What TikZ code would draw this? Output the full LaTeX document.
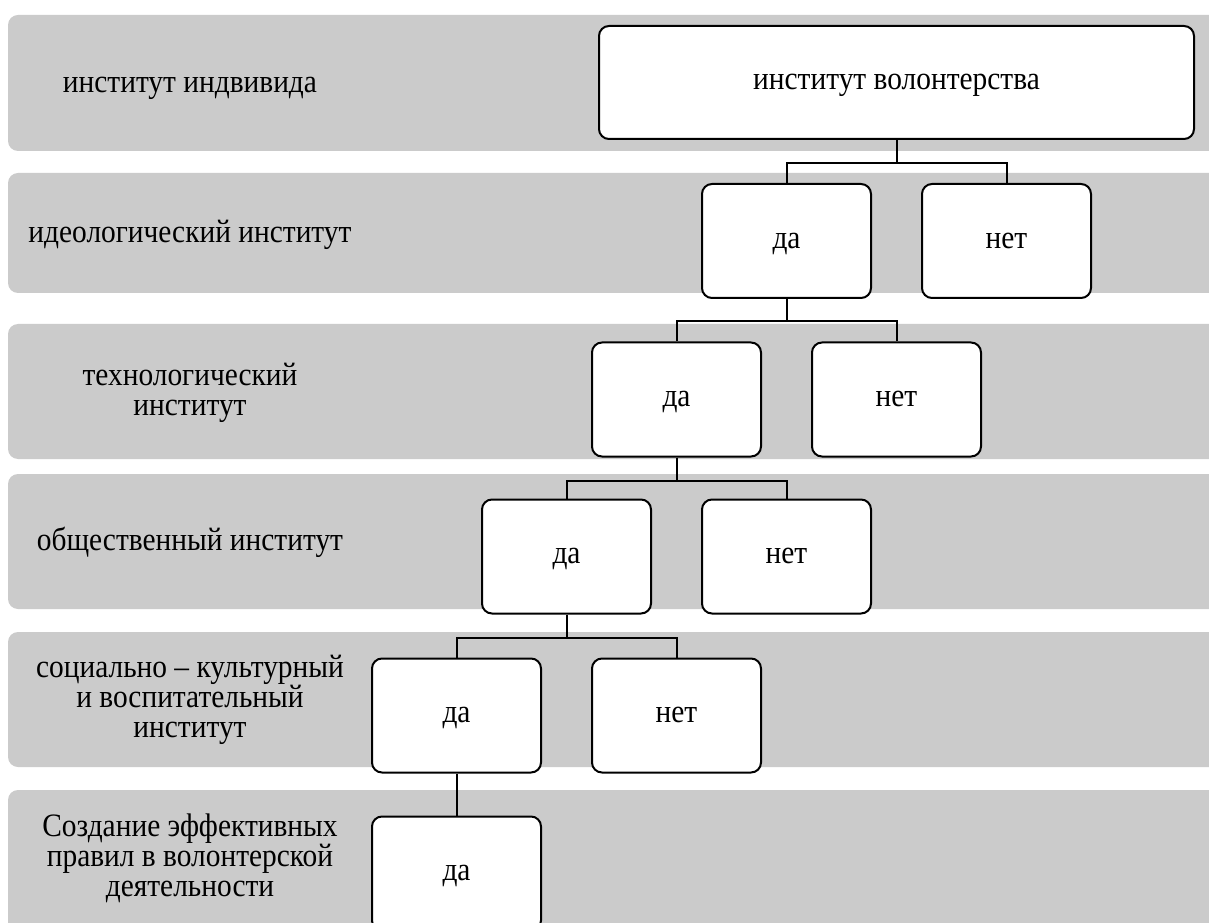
\documentclass[tikz,border=0pt]{standalone}
\usepackage{fontspec}
\setmainfont[FakeStretch=0.9]{Liberation Serif}
\definecolor{bandgray}{RGB}{203,203,203}

\begin{document}
\begin{tikzpicture}[x=0.75pt,y=-0.75pt,
	band/.style={fill=bandgray,rounded corners=7.5pt},
	choice/.style={draw,line width=1.5pt,fill=white,rounded corners=7.5pt,minimum width=126.75pt,minimum height=85.5pt,text height=11.2pt,text depth=0pt,font=\fontsize{24.5}{22.5}\selectfont},
	level/.style={align=center,font=\fontsize{24.5}{22.5}\selectfont},
	oneline/.style={level,text height=11.2pt,text depth=0pt},
	link/.style={line width=1.5pt}]
	\useasboundingbox (0,0) rectangle (1209,923);
	\clip (0,0) rectangle (1209,923);
	% bands
	\fill[band] (8,15) rectangle (1240,151);
	\fill[band] (8,173) rectangle (1240,293);
	\fill[band] (8,324) rectangle (1240,459);
	\fill[band] (8,474) rectangle (1240,609);
	\fill[band] (8,632) rectangle (1240,767);
	\fill[band] (8,790) rectangle (1240,960);
	% levels
	\node (lev1) at (190,85) [oneline] {институт индвивида};
	\node (lev2) at (190,235) [oneline] {идеологический институт};
	\node (lev3) at (190,393) [level] {технологический\\институт};
	\node (lev4) at (190,543) [oneline] {общественный институт};
	\node (lev5) at (190,700) [level] {социально – культурный\\и воспитательный\\институт};
	\node (lev6) at (190,858) [level] {Создание эффективных\\правил в волонтерской\\деятельности};
	% tree
	\node (vol) at (896.5,82.5) [choice,minimum width=446.25pt,minimum height=84.75pt] {институт волонтерства};
	\node (da1) at (786.5,241) [choice] {да};
	\node (net1) at (1006.5,241) [choice] {нет};
	\node (da2) at (676.5,399.5) [choice] {да};
	\node (net2) at (896.5,399.5) [choice] {нет};
	\node (da3) at (566.5,556.5) [choice] {да};
	\node (net3) at (786.5,556.5) [choice] {нет};
	\node (da4) at (456.5,715.5) [choice] {да};
	\node (net4) at (676.5,715.5) [choice] {нет};
	\node (da5) at (456.5,873.5) [choice] {да};
	\draw[link] (vol.south) -- ++(0,23) -| (da1.north);
	\draw[link] (vol.south) -- ++(0,23) -| (net1.north);
	\draw[link] (da1.south) -- ++(0,22.5) -| (da2.north);
	\draw[link] (da1.south) -- ++(0,22.5) -| (net2.north);
	\draw[link] (da2.south) -- ++(0,23) -| (da3.north);
	\draw[link] (da2.south) -- ++(0,23) -| (net3.north);
	\draw[link] (da3.south) -- ++(0,23) -| (da4.north);
	\draw[link] (da3.south) -- ++(0,23) -| (net4.north);
	\draw[link] (da4.south) -- (da5.north);
\end{tikzpicture}
\end{document}
